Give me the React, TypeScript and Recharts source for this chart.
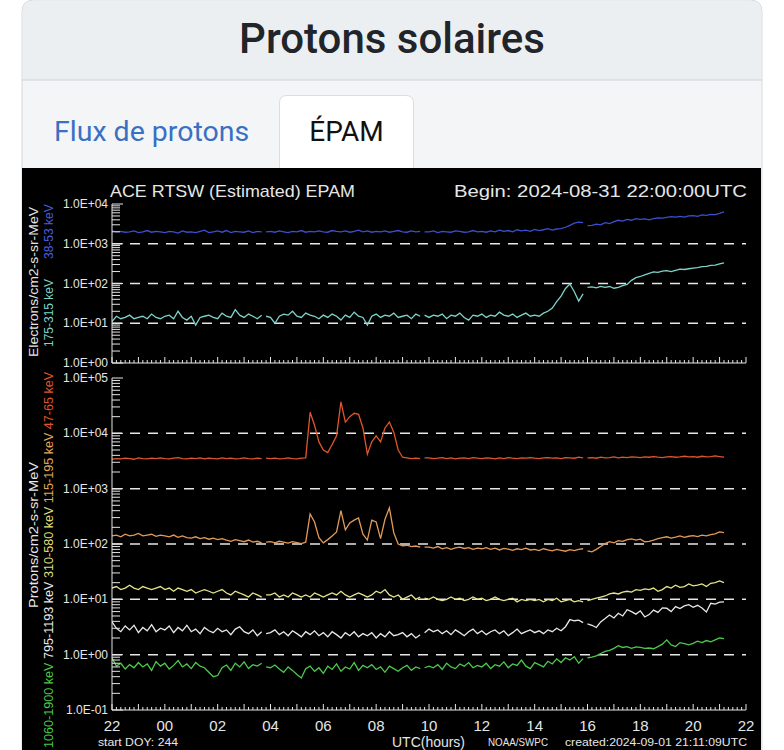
import React from "react";
import { LineChart, Line, XAxis, YAxis, ReferenceLine } from "recharts";

// samples every 10 minutes starting 2024-08-31 22:00 UTC
const STEP = 10;
// minutes (from 22:00) where the feed has short outages
const GAPS = [345, 705, 1075];
const X_LABELS = ["22", "00", "02", "04", "06", "08", "10", "12", "14", "16", "18", "20", "22"];

// electrons 38-53 keV
const E38 = [
  2100, 2000, 2050, 1950, 2000, 2100, 1900, 2000, 2150, 1950, 2050, 2000,
  1900, 2050, 2000, 1850, 2100, 1950, 2000, 1900, 2050, 2200, 1900, 2000,
  2100, 1950, 2150, 1900, 2050, 2000, 1950, 2100, 1900, 2050, 2000, 2000,
  2050, 1950, 2100, 2000, 1900, 2050, 2000, 2150, 1950, 2050, 2000, 2100,
  2000, 1950, 2150, 2050, 2000, 2100, 1950, 2050, 2200, 2000, 2100, 1950,
  2050, 2000, 2100, 1950, 2050, 2150, 2000, 1950, 2100, 2000, 2050, 2000,
  2000, 2100, 1900, 2050, 2000, 1950, 2100, 2050, 1950, 2000, 2150, 2000,
  2050, 1950, 2100, 2000, 2200, 2050, 2150, 2000, 2250, 2100, 2200, 2050,
  2300, 2150, 2250, 2400, 2200, 2350, 2400, 2600, 2900, 3300, 3500, 3400,
  2850, 2900, 3100, 3000, 3400, 3200, 3600, 3900, 3700, 4100, 3900, 4300,
  4100, 4200, 4000, 4300, 4500, 4400, 4600, 4800, 4700, 4900, 4700, 5000,
  5100, 4900, 5300, 5200, 5500, 5400, 5800, 6300,
];
// electrons 175-315 keV
const E175 = [
  11, 15, 13, 14, 16, 13, 14, 15, 13, 17, 14, 13,
  15, 16, 13, 20, 14, 12, 15, 9, 14, 15, 16, 14,
  13, 18, 15, 14, 22, 16, 14, 17, 15, 13, 16, 15,
  14, 10, 15, 17, 16, 20, 15, 14, 18, 16, 15, 13,
  16, 14, 17, 15, 12, 16, 14, 19, 15, 14, 9, 15,
  17, 14, 16, 15, 18, 14, 15, 16, 13, 17, 15, 16,
  14, 16, 15, 17, 13, 16, 15, 18, 14, 12, 16, 15,
  17, 14, 16, 15, 19, 16, 15, 17, 14, 16, 18, 15,
  16, 15, 18, 20, 24, 35, 48, 75, 97, 62, 36, 55,
  80, 82, 78, 85, 80, 84, 76, 80, 88, 95, 120, 140,
  150, 165, 180, 195, 190, 205, 210, 200, 215, 230, 225, 235,
  245, 250, 265, 270, 285, 290, 310, 330,
];
// protons 47-65 keV
const P47 = [
  3400, 3500, 3450, 3550, 3500, 3400, 3600, 3500, 3450, 3550, 3500, 3600,
  3500, 3450, 3550, 3650, 3500, 3450, 3550, 3500, 3600, 3450, 3550, 3500,
  3450, 3600, 3500, 3550, 3450, 3500, 3600, 3500, 3450, 3550, 3500, 3550,
  3500, 3550, 3450, 3500, 3600, 3500, 3450, 3550, 3600, 24000, 14000, 7000,
  5000, 4500, 6300, 9000, 37000, 16000, 20000, 23000, 22000, 12500, 4200, 7000,
  9000, 7000, 12500, 16000, 10500, 5000, 3700, 3600, 3500, 3550, 3500, 3600,
  3600, 3500, 3550, 3650, 3500, 3600, 3450, 3550, 3600, 3500, 3650, 3550,
  3500, 3600, 3550, 3450, 3600, 3500, 3650, 3550, 3500, 3600, 3550, 3650,
  3550, 3500, 3600, 3650, 3550, 3600, 3500, 3650, 3600, 3550, 3700, 3600,
  3600, 3650, 3550, 3700, 3600, 3650, 3750, 3600, 3700, 3650, 3750, 3700,
  3650, 3750, 3700, 3800, 3700, 3650, 3750, 3800, 3700, 3750, 3850, 3750,
  3800, 3700, 3850, 3750, 3800, 3900, 3800, 3700,
];
// protons 115-195 keV
const P115 = [
  140, 145, 135, 150, 140, 145, 155, 140, 145, 150, 138, 145,
  140, 135, 145, 132, 140, 130, 128, 135, 125, 130, 122, 128,
  120, 125, 118, 112, 120, 115, 110, 118, 108, 112, 105, 108,
  110, 105, 112, 108, 104, 110, 106, 102, 108, 350, 250, 130,
  105, 120, 140, 165, 400, 180, 240, 270, 295, 150, 118, 270,
  250, 125, 280, 450, 160, 100, 93, 95, 90, 92, 88, 88,
  88, 84, 90, 82, 86, 80, 85, 88, 83, 86, 80, 84,
  82, 86, 80, 84, 78, 83, 81, 77, 82, 79, 84, 78,
  80, 76, 82, 78, 75, 80, 77, 74, 79, 76, 80, 82,
  75, 72, 80, 90, 102, 110, 105, 115, 112, 120, 124, 118,
  122, 110, 112, 118, 125, 130, 135, 128, 133, 140, 132, 138,
  142, 136, 145, 140, 148, 152, 165, 160,
];
// protons 310-580 keV
const P310 = [
  16, 17, 15, 16, 18, 16, 15, 17, 16, 15, 16, 17,
  15, 16, 14, 16, 15, 14, 15, 13, 14, 15, 14, 13,
  14, 15, 13, 12, 14, 13, 12, 11, 13, 12, 11, 12,
  12, 13, 11, 12, 11, 13, 12, 11, 12, 11, 13, 12,
  11, 12, 13, 12, 14, 12, 11, 12, 13, 12, 11, 12,
  14, 13, 15, 12, 11, 12, 10, 11, 12, 10, 11, 10.5,
  10, 11, 10, 9.5, 10, 11, 10, 10.5, 9.5, 10, 11, 10,
  10.5, 9.5, 10, 11, 10, 9.5, 10, 10.5, 9, 10, 9.5, 10,
  9.5, 10, 9, 10, 9.5, 10.5, 9, 9.5, 10, 9, 9.5, 9,
  9.5, 10, 10.5, 11, 11.5, 12.5, 13, 12.5, 13.5, 14, 13.5, 15,
  14.5, 15.5, 15, 16, 14, 15, 17, 16, 18, 16.5, 17, 19,
  17.5, 18, 19, 17, 19.5, 20, 21.5, 20,
];
// protons 795-1193 keV
const P795 = [
  3.9, 3.0, 2.6, 3.3, 2.8, 3.4, 2.5, 3.1, 2.7, 3.5, 2.6, 3.0,
  2.8, 3.3, 2.5, 3.1, 2.7, 3.4, 2.6, 2.9, 2.4, 3.1, 2.7, 2.5,
  3.0, 2.6, 2.8, 2.3, 2.9, 3.2, 2.6, 2.4, 2.8, 2.2, 2.6, 2.4,
  2.5, 2.8, 2.3, 2.6, 2.2, 2.7, 2.4, 2.1, 2.6, 2.3, 2.7, 2.2,
  2.5, 2.1, 2.6, 2.3, 2.0, 2.5, 2.2, 2.6, 2.1, 2.4, 2.2, 2.5,
  2.0, 2.4, 2.1, 2.6, 2.2, 2.3, 2.5, 2.1, 2.4, 2.0, 2.3, 2.5,
  2.9, 2.6, 2.8, 2.4, 2.7, 2.3, 2.8, 2.5, 2.2, 2.6, 2.9, 2.4,
  2.7, 2.3, 2.6, 2.8, 2.4, 2.7, 2.2, 2.5, 2.9, 2.4, 2.6, 2.8,
  2.5, 2.7, 2.4, 2.8, 2.6, 3.0, 2.7, 3.2, 4.3, 4.1, 4.2, 3.8,
  3.6, 3.4, 3.1, 3.9, 4.5, 5.2, 4.6, 5.6, 5.0, 6.5, 6.0, 5.4,
  6.2, 4.8, 5.3, 6.4, 5.8, 7.0, 6.9, 6.0, 7.4, 6.8, 7.6, 8.0,
  7.2, 7.8, 7.0, 5.9, 8.5, 8.2, 8.9, 9.0,
];
// protons 1060-1900 keV
const P1060 = [
  0.88, 0.62, 0.70, 0.55, 0.66, 0.58, 0.72, 0.60, 0.68, 0.52, 0.75, 0.62,
  0.70, 0.55, 0.64, 0.78, 0.60, 0.68, 0.56, 0.72, 0.62, 0.58, 0.48, 0.40,
  0.42, 0.58, 0.65, 0.52, 0.70, 0.60, 0.74, 0.56, 0.66, 0.62, 0.70, 0.60,
  0.58, 0.65, 0.55, 0.48, 0.60, 0.52, 0.44, 0.38, 0.56, 0.62, 0.50, 0.58,
  0.46, 0.62, 0.54, 0.68, 0.50, 0.60, 0.55, 0.72, 0.52, 0.64, 0.58, 0.66,
  0.54, 0.60, 0.48, 0.62, 0.56, 0.50, 0.58, 0.64, 0.52, 0.60, 0.56, 0.58,
  0.62, 0.58, 0.66, 0.54, 0.70, 0.60, 0.56, 0.68, 0.62, 0.72, 0.58, 0.64,
  0.60, 0.70, 0.56, 0.66, 0.62, 0.74, 0.58, 0.68, 0.64, 0.80, 0.62, 0.56,
  0.72, 0.66, 0.60, 0.76, 0.68, 0.84, 0.72, 0.88, 0.80, 0.92, 0.70, 0.85,
  0.88, 0.90, 0.95, 1.05, 1.15, 1.20, 1.30, 1.45, 1.35, 1.40, 1.30, 1.38,
  1.35, 1.30, 1.32, 1.28, 1.40, 1.55, 1.85, 1.50, 1.40, 1.65, 1.58, 1.50,
  1.60, 1.75, 1.65, 1.80, 1.70, 1.85, 2.00, 1.95,
];

const rows: Record<string, number | null>[] = E38.map((v, i) => ({
  m: i * STEP,
  e38: v, e175: E175[i],
  p47: P47[i], p115: P115[i], p310: P310[i], p795: P795[i], p1060: P1060[i],
}));
// empty rows break every line at the outage times
GAPS.forEach((g) => rows.push({ m: g, e38: null, e175: null, p47: null, p115: null, p310: null, p795: null, p1060: null }));
rows.sort((a, b) => (a.m as number) - (b.m as number));

const FG = "#e6e6e6";
const FONT = "'Liberation Sans', Arial, sans-serif";
const W = 739;
const PL = 90; // plot left inside chart
const PR = 724; // plot right inside chart
const X_TICKS = Array.from({ length: 24 * 6 + 1 }, (_, i) => i * STEP);

function logTicks(lo: number, hi: number) {
  const out: number[] = [];
  for (let e = lo; e < hi; e++) for (let k = 1; k < 10; k++) out.push(k * Math.pow(10, e));
  out.push(Math.pow(10, hi));
  return out;
}
const isDecade = (v: number) => Math.abs(Math.log10(v) - Math.round(Math.log10(v))) < 1e-6;
const fmt = (v: number) => {
  const e = Math.round(Math.log10(v));
  return `1.0E${e < 0 ? "-" : "+"}${String(Math.abs(e)).padStart(2, "0")}`;
};

type Series = { key: string; color: string };

function Panel({ top, height, mTop, axisB, lo, hi, series, labels }: {
  top: number; height: number; mTop: number; axisB: number; lo: number; hi: number;
  series: Series[]; labels: boolean;
}) {
  const xH = height - axisB;
  const yt = logTicks(lo, hi);
  const decades = yt.filter(isDecade).slice(1, -1);
  const dom = [Math.pow(10, lo), Math.pow(10, hi)];

  const xTick = (axisY: number, dir: number, withText: boolean) => (p: any) => {
    const v = p.payload.value;
    const len = v % 60 === 0 ? 6 : 3;
    return (
      <g>
        <line x1={p.x} x2={p.x} y1={axisY} y2={axisY + dir * len} stroke={FG} />
        {withText && v % 120 === 0 && (
          <text x={p.x} y={axisY + 21} textAnchor="middle" fill={FG} fontSize={15} fontFamily={FONT}>
            {X_LABELS[v / 120]}
          </text>
        )}
      </g>
    );
  };
  const yTick = (axisX: number, dir: number, withText: boolean) => (p: any) => {
    const v = p.payload.value;
    const major = isDecade(v);
    return (
      <g>
        <line x1={axisX} x2={axisX + dir * (major ? 11 : 8)} y1={p.y} y2={p.y} stroke={FG} />
        {withText && major && (
          <text x={axisX - 4} y={p.y} textAnchor="end" dominantBaseline="central" fill={FG} fontSize={12} fontFamily={FONT}>
            {fmt(v)}
          </text>
        )}
      </g>
    );
  };

  return (
    <div style={{ position: "absolute", left: 22, top, width: W, height }}>
      <LineChart width={W} height={height} data={rows} margin={{ top: mTop, right: W - PR, bottom: 0, left: 0 }}>
        <XAxis xAxisId="b" type="number" dataKey="m" domain={[0, 1440]} ticks={X_TICKS} interval={0}
          height={xH} tickSize={0} tickLine={false} axisLine={{ stroke: FG }} tick={xTick(axisB, -1, labels)} allowDataOverflow />
        <XAxis xAxisId="t" orientation="top" type="number" dataKey="m" domain={[0, 1440]} ticks={X_TICKS} interval={0}
          height={0} tickSize={0} tickLine={false} axisLine={{ stroke: FG }} tick={xTick(mTop, 1, false)} allowDataOverflow />
        <YAxis yAxisId="l" type="number" scale="log" domain={dom} ticks={yt} interval={0} width={PL}
          tickSize={0} tickLine={false} axisLine={{ stroke: FG }} tick={yTick(PL, 1, true)} allowDataOverflow />
        <YAxis yAxisId="r" orientation="right" type="number" scale="log" domain={dom} ticks={yt} interval={0} width={0}
          tickSize={0} tickLine={false} axisLine={{ stroke: FG }} tick={yTick(PR, -1, false)} allowDataOverflow />
        {decades.map((d) => (
          <ReferenceLine key={d} xAxisId="b" yAxisId="l" y={d} stroke={FG} strokeDasharray="10 8" strokeWidth={1.5} />
        ))}
        {series.map((s) => (
          <Line key={s.key} xAxisId="b" yAxisId="l" type="linear" dataKey={s.key} stroke={s.color}
            strokeWidth={1.3} dot={false} connectNulls={false} isAnimationActive={false} />
        ))}
      </LineChart>
    </div>
  );
}

const TOP_SERIES: Series[] = [
  { key: "e38", color: "#3b4fd0" },
  { key: "e175", color: "#7dd3cb" },
];
const BOTTOM_SERIES: Series[] = [
  { key: "p47", color: "#e0552b" },
  { key: "p115", color: "#e39a58" },
  { key: "p310", color: "#e4e48a" },
  { key: "p795", color: "#e8e8e8" },
  { key: "p1060", color: "#4cc94c" },
];

export default function App() {
  const t = { fill: FG, fontFamily: FONT };
  return (
    <div style={{ position: "absolute", left: 0, top: 0, width: 784, height: 750, overflow: "hidden", background: "#fff" }}>
      <svg width={784} height={750} style={{ position: "absolute", left: 0, top: 0 }}>
        <path d="M22,760 V12 Q22,0 34,0 H750 Q762,0 762,12 V760 Z" fill="#f3f5f7" stroke="#d6d9dc" />
        <path d="M22.5,80 V12 Q22.5,0.5 34,0.5 H750 Q761.5,0.5 761.5,12 V80 Z" fill="#eceff1" />
        <line x1={22} x2={762} y1={80} y2={80} stroke="#cfd3d6" />
        <path d="M279.5,170 V103 Q279.5,95.5 287,95.5 H406 Q413.5,95.5 413.5,103 V170" fill="#fff" stroke="#dadde1" />
        <rect x={22} y={168} width={739} height={590} fill="#000" />
        <text x={392} y={53} textAnchor="middle" fontFamily="Roboto, sans-serif" fontWeight={500} fontSize={42} fill="#212529">
          Protons solaires
        </text>
        <text x={54} y={141} fontFamily="Roboto, sans-serif" fontSize={28.5} fill="#3a70c2">Flux de protons</text>
        <text x={346.5} y={141} textAnchor="middle" fontFamily="Roboto, sans-serif" fontSize={28} fill="#111">ÉPAM</text>
      </svg>

      <Panel top={168} height={212} mTop={36} axisB={195} lo={0} hi={4} series={TOP_SERIES} labels={false} />
      <Panel top={368} height={382} mTop={10} axisB={342} lo={-1} hi={5} series={BOTTOM_SERIES} labels={true} />

      <svg width={W} height={582} style={{ position: "absolute", left: 22, top: 168, pointerEvents: "none" }}>
        <text x={88} y={29} fontSize={17} textLength={245} lengthAdjust="spacingAndGlyphs" {...t}>ACE RTSW (Estimated) EPAM</text>
        <text x={432} y={29} fontSize={17} textLength={293} lengthAdjust="spacingAndGlyphs" {...t}>Begin: 2024-08-31 22:00:00UTC</text>

        <text transform="translate(12,114) rotate(-90)" textAnchor="middle" dominantBaseline="central" fontSize={12}
          textLength={150} lengthAdjust="spacingAndGlyphs" {...t}>Electrons/cm2-s-sr-MeV</text>
        <text transform="translate(27,179) rotate(-90)" dominantBaseline="central" fontSize={12} fontFamily={FONT} fill="#7dd3cb">175-315 keV</text>
        <text transform="translate(27,91) rotate(-90)" dominantBaseline="central" fontSize={12} fontFamily={FONT} fill="#4a5fe0">38-53 keV</text>

        <text transform="translate(12,367) rotate(-90)" textAnchor="middle" dominantBaseline="central" fontSize={12}
          textLength={146} lengthAdjust="spacingAndGlyphs" {...t}>Protons/cm2-s-sr-MeV</text>
        <text transform="translate(27,580) rotate(-90)" dominantBaseline="central" fontSize={12.6} fontFamily={FONT}>
          <tspan fill="#4cc94c">1060-1900 keV </tspan>
          <tspan fill="#e8e8e8">795-1193 keV </tspan>
          <tspan fill="#dede78">310-580 keV </tspan>
          <tspan fill="#e0a85a">115-195 keV </tspan>
          <tspan fill="#e0552b">47-65 keV</tspan>
        </text>

        <text x={76} y={578} fontSize={11} textLength={80} lengthAdjust="spacingAndGlyphs" {...t}>start DOY: 244</text>
        <text x={370} y={579} fontSize={14} textLength={73} lengthAdjust="spacingAndGlyphs" {...t}>UTC(hours)</text>
        <text x={466} y={578} fontSize={11} textLength={60} lengthAdjust="spacingAndGlyphs" {...t}>NOAA/SWPC</text>
        <text x={543} y={578} fontSize={11} textLength={182} lengthAdjust="spacingAndGlyphs" {...t}>created:2024-09-01 21:11:09UTC</text>
      </svg>
    </div>
  );
}
